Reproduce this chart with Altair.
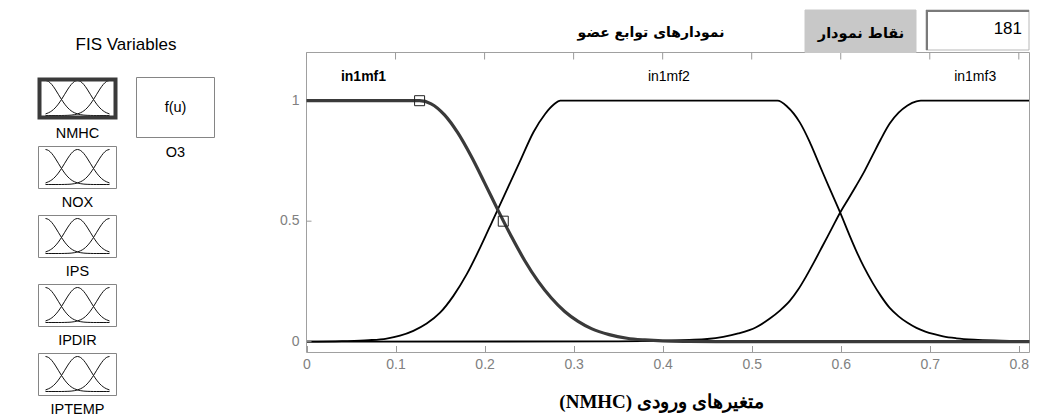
import altair as alt
import pandas as pd

# ---------------- values ----------------
x_ticks = [0, 0.1, 0.2, 0.3, 0.4, 0.5, 0.6, 0.7, 0.8]
y_ticks = [0, 0.5, 1]
y_tick_labels = ["0", "0.5", "1"]
x_domain = [0, 0.812]
y_domain = [-0.045, 1.2]

mf_names = ["in1mf1", "in1mf2", "in1mf3"]
mf_label_x = [0.064, 0.407, 0.751]
mf_label_y = [1.1, 1.1, 1.1]
selected_mf = "in1mf1"

in1mf1_x = [0.0, 0.05, 0.1, 0.127, 0.14, 0.155, 0.17, 0.185, 0.2, 0.215,
            0.23, 0.245, 0.26, 0.275, 0.29, 0.305, 0.32, 0.34, 0.36, 0.38,
            0.4, 0.43, 0.46, 0.5, 0.6, 0.7, 0.812]
in1mf1_y = [1.0, 1.0, 1.0, 1.0, 0.987, 0.941, 0.866, 0.769, 0.659, 0.546,
            0.437, 0.337, 0.251, 0.181, 0.125, 0.084, 0.054, 0.029, 0.014, 0.007,
            0.003, 0.001, 0.0, 0.0, 0.0, 0.0, 0.0]

in1mf2_x = [0.0, 0.04, 0.07, 0.09, 0.105, 0.12, 0.135, 0.15, 0.165, 0.18,
            0.195, 0.21, 0.225, 0.24, 0.255, 0.268, 0.278, 0.285, 0.4, 0.529,
            0.54, 0.554, 0.565, 0.572, 0.58, 0.587, 0.6, 0.61, 0.617, 0.626,
            0.636, 0.645, 0.655, 0.665, 0.675, 0.685, 0.695, 0.705, 0.715, 0.73,
            0.75, 0.78, 0.812]
in1mf2_y = [0.0, 0.002, 0.006, 0.013, 0.025, 0.045, 0.075, 0.12, 0.19, 0.28,
            0.39, 0.51, 0.63, 0.75, 0.87, 0.945, 0.985, 1.0, 1.0, 1.0,
            0.975, 0.91, 0.83, 0.77, 0.70, 0.64, 0.53, 0.44, 0.38, 0.31,
            0.243, 0.19, 0.14, 0.105, 0.078, 0.057, 0.042, 0.031, 0.022, 0.014,
            0.008, 0.004, 0.001]

in1mf3_x = [0.0, 0.35, 0.4, 0.43, 0.45, 0.468, 0.485, 0.505, 0.52, 0.532,
            0.543, 0.552, 0.561, 0.57, 0.58, 0.59, 0.6, 0.609, 0.617, 0.627,
            0.636, 0.645, 0.655, 0.665, 0.675, 0.685, 0.69, 0.812]
in1mf3_y = [0.0, 0.001, 0.003, 0.007, 0.011, 0.02, 0.034, 0.06, 0.095, 0.13,
            0.17, 0.215, 0.27, 0.33, 0.40, 0.47, 0.54, 0.595, 0.645, 0.71,
            0.775, 0.84, 0.905, 0.95, 0.98, 0.997, 1.0, 1.0]

marker_x = [0.127, 0.221]
marker_y = [1.0, 0.5]

variables = ["NMHC", "NOX", "IPS", "IPDIR", "IPTEMP"]
selected_var = "NMHC"
output_var = "O3"
output_icon = "f(u)"
n_points = "181"

icon_x = [0, 0.05, 0.1, 0.15, 0.2, 0.25, 0.3, 0.35, 0.4, 0.45, 0.5,
          0.55, 0.6, 0.65, 0.7, 0.75, 0.8, 0.85, 0.9, 0.95, 1.0]
icon_left = [1.0, 0.969, 0.882, 0.755, 0.607, 0.458, 0.325, 0.216, 0.135, 0.08, 0.044,
             0.023, 0.011, 0.005, 0.002, 0.0, 0.0, 0.0, 0.0, 0.0, 0.0]
icon_mid = [0.044, 0.08, 0.135, 0.216, 0.325, 0.458, 0.607, 0.755, 0.882, 0.969, 1.0,
            0.969, 0.882, 0.755, 0.607, 0.458, 0.325, 0.216, 0.135, 0.08, 0.044]
icon_right = [0.0, 0.0, 0.0, 0.0, 0.0, 0.0, 0.002, 0.005, 0.011, 0.023, 0.044,
              0.08, 0.135, 0.216, 0.325, 0.458, 0.607, 0.755, 0.882, 0.969, 1.0]

panel_title = "FIS Variables"
chart_title = "نمودارهای توابع عضو"
points_label = "نقاط نمودار"
x_title = "(NMHC) متغیرهای ورودی"

# ---------------- layout (pixels in the canvas) ----------------
W, H = 1022, 409
PX0, PY0, PY1 = 298.5, 44.5, 344.5
PX_PER_UNIT = 890.4
PX1 = PX0 + PX_PER_UNIT * x_domain[1]
IC_L, IC_R = 30.5, 108.5
ICON_TOPS = [69.5, 138.5, 207.5, 276.5, 345.5]
ICON_H = 42
LATIN = "Liberation Sans"
AXIS_GREY = "#808080"
TICK_GREY = "#9a9a9a"

one = pd.DataFrame({"k": [0]})


def txt(s, x, y, size=14.5, weight="normal", font=LATIN, align="center", color="black"):
    return alt.Chart(one).mark_text(
        text=s, fontSize=size, fontWeight=weight, font=font, align=align,
        baseline="middle", color=color
    ).encode(x=alt.value(x), y=alt.value(y))


def box(x1, x2, y1, y2, fill="transparent", stroke="#858585", sw=1):
    return alt.Chart(one).mark_rect(fill=fill, stroke=stroke, strokeWidth=sw).encode(
        x=alt.value(x1), x2=alt.value(x2), y=alt.value(y1), y2=alt.value(y2))


def rule(x1, x2, y1, y2, color, sw):
    return alt.Chart(one).mark_rule(color=color, strokeWidth=sw).encode(
        x=alt.value(x1), x2=alt.value(x2), y=alt.value(y1), y2=alt.value(y2))


# ---------------- main membership-function plot ----------------
mf_df = pd.concat([
    pd.DataFrame({"x": in1mf1_x, "y": in1mf1_y, "mf": "in1mf1"}),
    pd.DataFrame({"x": in1mf2_x, "y": in1mf2_y, "mf": "in1mf2"}),
    pd.DataFrame({"x": in1mf3_x, "y": in1mf3_y, "mf": "in1mf3"}),
], ignore_index=True)
lab_df = pd.DataFrame({"x": mf_label_x, "y": mf_label_y, "name": mf_names})
mk_df = pd.DataFrame({"x": marker_x, "y": marker_y})
xt_df = pd.DataFrame({"v": x_ticks})
yt_df = pd.DataFrame({"v": y_ticks, "t": y_tick_labels})

xsc = alt.Scale(domain=x_domain, range=[PX0, PX1], nice=False, zero=False)
ysc = alt.Scale(domain=y_domain, range=[PY1, PY0], nice=False, zero=False)

x_axis_bottom = alt.Axis(
    values=x_ticks, format="~g", orient="bottom", offset=-(H - PY1) - 7,
    tickSize=7, tickColor=TICK_GREY, domain=False, grid=False,
    labelFont=LATIN, labelFontSize=14, labelColor=AXIS_GREY, labelPadding=5,
    labelFlush=False, labelOverlap=False,
    title=x_title, titleFont="Liberation Serif", titleFontSize=19,
    titleFontWeight="bold", titleColor="black", titlePadding=21, titleX=653)

others = alt.Chart(mf_df[mf_df["mf"] != selected_mf]).mark_line(
    color="black", strokeWidth=1.8, interpolate="monotone").encode(
    x=alt.X("x:Q", scale=xsc, axis=x_axis_bottom),
    y=alt.Y("y:Q", scale=ysc, axis=None),
    detail="mf:N")

frame = alt.Chart(one).mark_rect(fill="transparent", stroke="#a0a0a0", strokeWidth=1).encode(
    x=alt.XDatum(x_domain[0], scale=xsc, axis=None),
    x2=alt.X2Datum(x_domain[1]),
    y=alt.YDatum(y_domain[0], scale=ysc, axis=None),
    y2=alt.Y2Datum(y_domain[1]))

top_ticks = alt.Chart(xt_df).mark_rule(color=TICK_GREY, strokeWidth=1).encode(
    x=alt.X("v:Q", scale=xsc, axis=None),
    y=alt.value(PY0), y2=alt.value(PY0 + 7))
left_ticks = alt.Chart(yt_df).mark_rule(color=TICK_GREY, strokeWidth=1).encode(
    y=alt.Y("v:Q", scale=ysc, axis=None),
    x=alt.value(PX0), x2=alt.value(PX0 + 5))
left_labels = alt.Chart(yt_df).mark_text(
    align="right", baseline="middle", font=LATIN, fontSize=14, color=AXIS_GREY).encode(
    y=alt.Y("v:Q", scale=ysc, axis=None),
    x=alt.value(PX0 - 7),
    text="t:N")

sel = alt.Chart(mf_df[mf_df["mf"] == selected_mf]).mark_line(
    color="#3a3a3a", strokeWidth=3.2, interpolate="monotone").encode(
    x=alt.X("x:Q", scale=xsc, axis=None),
    y=alt.Y("y:Q", scale=ysc, axis=None))
markers = alt.Chart(mk_df).mark_point(
    shape="square", size=100, filled=False, color="#222222", strokeWidth=1, opacity=1).encode(
    x=alt.X("x:Q", scale=xsc, axis=None),
    y=alt.Y("y:Q", scale=ysc, axis=None))
labels_norm = alt.Chart(lab_df[lab_df["name"] != selected_mf]).mark_text(
    font=LATIN, fontSize=14, color="black", baseline="middle").encode(
    x=alt.X("x:Q", scale=xsc, axis=None),
    y=alt.Y("y:Q", scale=ysc, axis=None),
    text="name:N")
labels_sel = alt.Chart(lab_df[lab_df["name"] == selected_mf]).mark_text(
    font=LATIN, fontSize=14, fontWeight="bold", color="black", baseline="middle").encode(
    x=alt.X("x:Q", scale=xsc, axis=None),
    y=alt.Y("y:Q", scale=ysc, axis=None),
    text="name:N")

main = alt.layer(others, frame, top_ticks, left_ticks, left_labels, sel, markers,
                 labels_norm, labels_sel).resolve_axis(x="independent", y="independent")

# ---------------- left panel: FIS variables ----------------
icon_df = pd.concat([
    pd.DataFrame({"x": icon_x, "v": icon_left, "c": "l"}),
    pd.DataFrame({"x": icon_x, "v": icon_mid, "c": "m"}),
    pd.DataFrame({"x": icon_x, "v": icon_right, "c": "r"}),
], ignore_index=True)

panel = [txt(panel_title, 118, 37, size=17)]
for i, name in enumerate(variables):
    top = ICON_TOPS[i]
    bot = top + ICON_H
    sx = alt.Scale(domain=[0, 1], range=[IC_L + 7, IC_R - 7], nice=False, zero=False)
    sy = alt.Scale(domain=[0, 1], range=[bot - 4, top + 3], nice=False, zero=False)
    panel.append(alt.Chart(icon_df).mark_line(color="#111111", strokeWidth=1, interpolate="monotone").encode(
        x=alt.X("x:Q", scale=sx, axis=None),
        y=alt.Y("v:Q", scale=sy, axis=None),
        detail="c:N"))
    if name == selected_var:
        panel.append(box(IC_L + 1, IC_R - 1, top + 2, bot - 2, stroke="#3a3a3a", sw=4))
    else:
        panel.append(box(IC_L, IC_R, top, bot))
    panel.append(txt(name, (IC_L + IC_R) / 2, bot + 14))

panel.append(box(128.5, 206.5, 69.5, 129.5))
panel.append(txt(output_icon, 167.5, 100))
panel.append(txt(output_var, 167.5, 145))

# ---------------- header widgets ----------------
header = [
    txt(chart_title, 643, 25, size=14, weight="bold", font="DejaVu Sans"),
    box(797, 908, 2, 44.5, fill="#c8c8c8", stroke="#c8c8c8"),
    txt(points_label, 853, 26, size=14.5, weight="bold", font="DejaVu Sans"),
    box(918, 1021, 2, 42, fill="white", stroke="#b8b8b8"),
    rule(918, 1021, 3, 3, "#7a7a7a", 2),
    rule(919, 919, 2, 42, "#7a7a7a", 2),
    txt(n_points, 1014, 21, size=17, align="right"),
]

chart = alt.layer(main, *panel, *header).resolve_scale(
    x="independent", y="independent"
).properties(
    width=W, height=H, padding=0, autosize=alt.AutoSizeParams(type="none"),
    background="white"
).configure_view(stroke="transparent")

chart.save("out.html", embed_options={"renderer": "svg", "actions": False})
